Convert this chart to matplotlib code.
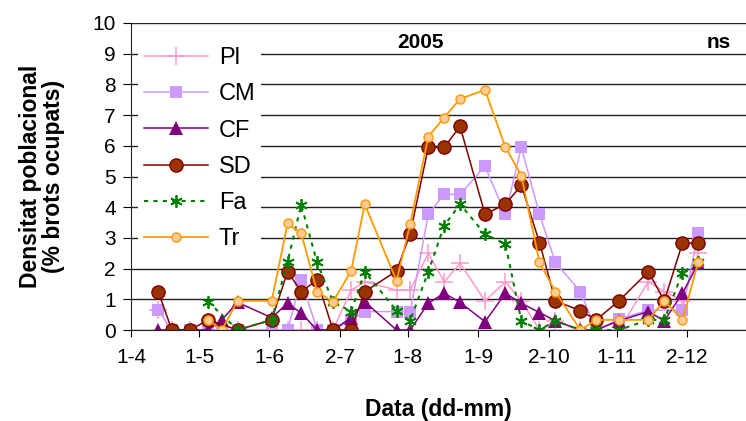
import matplotlib
matplotlib.use("Agg")
import matplotlib.pyplot as plt
import numpy as np
import pandas as pd

plt.rcParams['font.family'] = ['Liberation Sans', 'DejaVu Sans']

# sampling dates (dd-mm, 2005)
dates = ['13-4', '19-4', '27-4', '5-5', '11-5', '18-5', '2-6', '9-6', '15-6', '22-6',
         '29-6', '7-7', '13-7', '27-7', '2-8', '10-8', '17-8', '24-8', '4-9', '13-9',
         '20-9', '28-9', '5-10', '16-10', '23-10', '2-11', '15-11', '22-11', '30-11', '7-12']
N = None
pl = [0.65, 0, 0, 0, 0, 0, 0, 0, 0, 0,
      0, 1.3, 1.57, 1.3, 1.3, 2.5, 1.57, 2.17, 0.95, 1.57,
      0.95, 0, 0.3, 0, 0, 0, 1.57, 1.25, 0.95, 2.5]
cm = [0.65, 0, 0, 0, 0, 0, 0, 0, 1.63, 0,
      0, 0.33, 0.6, 0.6, 0.6, 3.77, 4.42, 4.42, 5.33, 3.77,
      5.95, 3.77, 2.2, 1.25, 0, 0.35, 0.65, N, 0.65, 3.15]
cf = [0, 0, 0, 0, 0.33, 0.9, 0.4, 0.87, 0.55, 0,
      0, 0.4, 0.92, 0, 0, 0.87, 1.2, 0.9, 0.27, 1.2,
      0.87, 0.57, 0.3, 0, 0, 0.3, 0.6, 0.3, 1.2, 2.17]
sd = [1.25, 0, 0, 0.33, N, 0, 0.33, 1.9, 1.25, 1.63,
      0, 0, 1.25, 1.92, 3.13, 5.95, 5.95, 6.63, 3.77, 4.1,
      4.71, 2.85, 0.95, 0.63, 0.33, 0.95, 1.9, 0.95, 2.83, 2.83]
fa = [N, N, N, 0.92, N, 0, 0.33, 2.23, 4.08, 2.2,
      0.92, 0.6, 1.9, 0.63, 0.3, 1.9, 3.4, 4.1, 3.12, 2.8,
      0.3, 0, 0.3, 0, 0, 0, 0.33, 0.33, 1.87, 2.2]
tr = [N, N, N, 0.33, 0, 0.95, 0.95, 3.47, 3.15, 1.25,
      0.92, 1.92, 4.1, 1.6, 3.45, 6.3, 6.92, 7.53, 7.82, 5.95,
      5.03, 2.2, 1.25, 0, 0.33, 0.33, 0.33, 0.95, 0.33, 2.23]

tick_labels = ['1-4', '1-5', '1-6', '2-7', '1-8', '1-9', '2-10', '1-11', '2-12']

x = pd.to_datetime([d + '-2005' for d in dates], format='%d-%m-%Y')
xt = pd.to_datetime([d + '-2005' for d in tick_labels], format='%d-%m-%Y')

fig = plt.figure(figsize=(7.46, 4.21), dpi=100)
ax = fig.add_axes([131/746, 91/421, 615/746, 307/421])

def draw(vals, label, **kw):
    v = np.array([np.nan if a is None else a for a in vals], dtype=float)
    m = ~np.isnan(v)
    ax.plot(x[m], v[m], label=label, **kw)

draw(pl, 'Pl', color='#FF99CC', lw=1.1, marker='+', ms=13, mew=1.1)
draw(cm, 'CM', color='#CC99FF', lw=1.1, marker='s', ms=9, mew=0)
draw(cf, 'CF', color='#800080', lw=1.1, marker='^', ms=10, mew=0)
draw(sd, 'SD', color='#800000', lw=1.1, marker='o', ms=9.5, mfc='#993300', mec='#800000', mew=1)
draw(fa, 'Fa', color='#008000', lw=1.5, ls=(0, (2, 2.5)), marker=(6, 2, 0), ms=9, mew=1.3)
draw(tr, 'Tr', color='#FF9900', lw=1.3, marker='o', ms=6.5, mfc='#FFCC99', mec='#FF9900', mew=1)

ax.set_xlim(pd.Timestamp('2005-04-01'), pd.Timestamp('2005-12-28'))
ax.set_ylim(0, 10)
ax.set_yticks(range(0, 11))
ax.set_xticks(xt)
ax.set_xticklabels(tick_labels)
ax.yaxis.grid(True, color='#222222', lw=1)
ax.set_axisbelow(True)
for s in ['top', 'right']:
    ax.spines[s].set_visible(False)
ax.spines['left'].set_color('#222222')
ax.spines['bottom'].set_color('#222222')
ax.tick_params(axis='y', direction='out', length=6, labelsize=15, pad=5)
ax.tick_params(axis='x', direction='out', length=5, labelsize=15, pad=8)

ax.set_xlabel('Data (dd-mm)', fontsize=16.5, fontweight='bold', labelpad=22)
ax.set_ylabel('Densitat poblacional\n(% brots ocupats)', fontsize=16.5,
              fontweight='bold', labelpad=20, linespacing=0.95)

ax.text(0.47, 0.935, '2005', transform=ax.transAxes, fontsize=15,
        fontweight='bold', ha='center', va='center')
ax.text(0.955, 0.935, 'ns', transform=ax.transAxes, fontsize=15,
        fontweight='bold', ha='center', va='center')

leg = ax.legend(loc='upper left', bbox_to_anchor=(0.012, 0.94), fontsize=17,
                frameon=True, fancybox=False, framealpha=1, facecolor='white',
                edgecolor='none', handlelength=2.7, handletextpad=0.45,
                labelspacing=0.6, borderpad=0.25, borderaxespad=0)

fig.savefig('out.png', dpi=100)
